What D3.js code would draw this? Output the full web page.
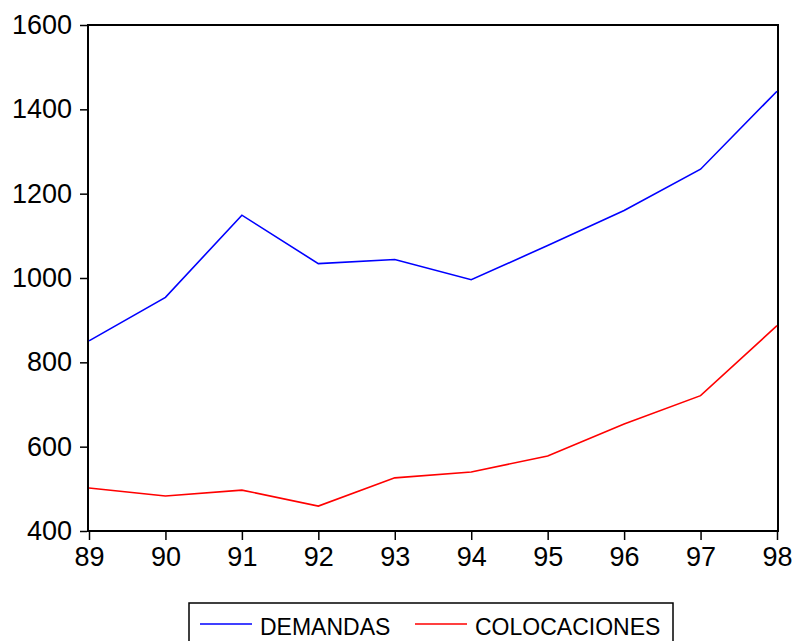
<!DOCTYPE html>
<html>
<head>
<meta charset="utf-8">
<script src="https://cdn.jsdelivr.net/npm/d3@7"></script>
<style>
  body { margin: 0; background: #fff; }
  svg { font-family: Arial, "Liberation Sans", sans-serif; }
</style>
</head>
<body>
<svg id="chart" width="792" height="641"></svg>
<script>
// chart data
const years = ["89", "90", "91", "92", "93", "94", "95", "96", "97", "98"];
const demandas = [851, 954, 1149, 1034, 1044, 996, 1077, 1160, 1258, 1443];
const colocaciones = [502, 483, 497, 459, 526, 540, 578, 654, 721, 887];
const yTicks = [400, 600, 800, 1000, 1200, 1400, 1600];

const svg = d3.select("#chart");
const margin = { left: 89, right: 15, top: 25, bottom: 110 };
const W = 792, H = 641;
const FONT = "Arial, 'Liberation Sans', sans-serif";

const x = d3.scalePoint().domain(years).range([margin.left, W - margin.right]);
const y = d3.scaleLinear().domain([400, 1600]).range([H - margin.bottom, margin.top]);

// frame
svg.append("rect")
    .attr("x", margin.left - 1).attr("y", margin.top)
    .attr("width", W - margin.right - margin.left + 2)
    .attr("height", H - margin.bottom - margin.top)
    .attr("fill", "none").attr("stroke", "#000").attr("stroke-width", 2);

// y axis
const yAxis = svg.append("g")
    .attr("transform", `translate(${margin.left - 2},0)`)
    .call(d3.axisLeft(y).tickValues(yTicks).tickFormat(d3.format("d")).tickSize(7).tickPadding(8));
yAxis.select(".domain").remove();
yAxis.selectAll("text").attr("font-size", 27).attr("font-family", FONT).attr("fill", "#000");
yAxis.selectAll("line").attr("stroke-width", 1.5);

// x axis
const xAxis = svg.append("g")
    .attr("transform", `translate(0,${H - margin.bottom + 1})`)
    .call(d3.axisBottom(x).tickSize(8).tickPadding(7));
xAxis.select(".domain").remove();
xAxis.selectAll("text").attr("font-size", 27).attr("font-family", FONT).attr("fill", "#000");
xAxis.selectAll("line").attr("stroke-width", 1.5);

// series
const line = d3.line().x((d, i) => x(years[i])).y(d => y(d));
svg.append("path").datum(demandas)
    .attr("d", line).attr("fill", "none").attr("stroke", "#0000ff").attr("stroke-width", 1.6);
svg.append("path").datum(colocaciones)
    .attr("d", line).attr("fill", "none").attr("stroke", "#ff0000").attr("stroke-width", 1.6);

// legend
const legend = svg.append("g");
legend.append("rect")
    .attr("x", 189).attr("y", 603).attr("width", 484).attr("height", 50)
    .attr("fill", "none").attr("stroke", "#000").attr("stroke-width", 1.5);
const items = [
    { name: "DEMANDAS", color: "#0000ff", x0: 200 },
    { name: "COLOCACIONES", color: "#ff0000", x0: 415 }
];
items.forEach(it => {
    legend.append("line")
        .attr("x1", it.x0).attr("x2", it.x0 + 52)
        .attr("y1", 624).attr("y2", 624)
        .attr("stroke", it.color).attr("stroke-width", 1.6);
    legend.append("text")
        .attr("x", it.x0 + 60).attr("y", 635)
        .attr("font-size", 23).attr("font-family", FONT).attr("fill", "#000")
        .text(it.name);
});
</script>
</body>
</html>
